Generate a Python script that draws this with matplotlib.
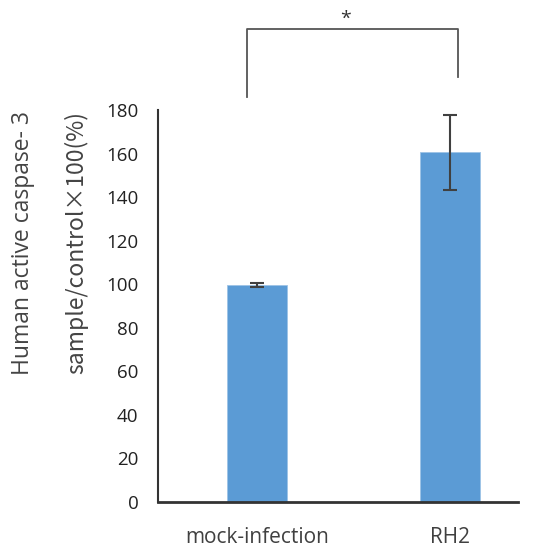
import matplotlib
matplotlib.use('Agg')
import matplotlib.pyplot as plt

plt.rcParams['font.family'] = ['Open Sans', 'DejaVu Sans']

groups = ['mock-infection', 'RH2']
values = [99.7, 160.5]
errors = [0.8, 17.2]
yticks = [0, 20, 40, 60, 80, 100, 120, 140, 160, 180]

fig = plt.figure(figsize=(5.4, 5.55), dpi=100)
ax = fig.add_axes([158/540, 53/555, 360/540, 392/555])

x = list(range(len(groups)))
ax.bar(x, values, width=0.31, color='#5B9BD5', edgecolor='#9DC3E6', linewidth=0.6,
       yerr=errors, error_kw=dict(ecolor='#404040', elinewidth=1.5, capsize=5, capthick=1.5))

ax.set_xlim(-0.51, 1.35)
ax.set_ylim(0, 180)
ax.set_yticks(yticks)
ax.set_xticks(x)
ax.set_xticklabels(groups, fontsize=15, color='#404040')
ax.tick_params(axis='y', labelsize=13.5, labelcolor='#222222', length=0, pad=14)
ax.tick_params(axis='x', length=0, pad=18)
for s in ['top', 'right']:
    ax.spines[s].set_visible(False)
ax.spines['left'].set_color('#333333')
ax.spines['left'].set_linewidth(1.5)
ax.spines['bottom'].set_color('#333333')
ax.spines['bottom'].set_linewidth(2)

fig.text(23/540, 1 - 243/555, 'Human active caspase- 3', rotation=90, ha='center', va='center',
         fontsize=16.5, color='#444444')
fig.text(76/540, 1 - 243/555, 'sample/control\u00d7100(%)', rotation=90, ha='center', va='center',
         fontsize=16.5, color='#444444', family=['Noto Sans CJK JP', 'DejaVu Sans'])

# significance bracket
ax.plot([-0.05, -0.05, 1.04, 1.04], [186, 217, 217, 195], color='#555555', lw=1.3, clip_on=False)
ax.text(0.46, 217.5, '*', ha='center', va='bottom', fontsize=14, color='#333333')

fig.savefig('out.png', dpi=100)
